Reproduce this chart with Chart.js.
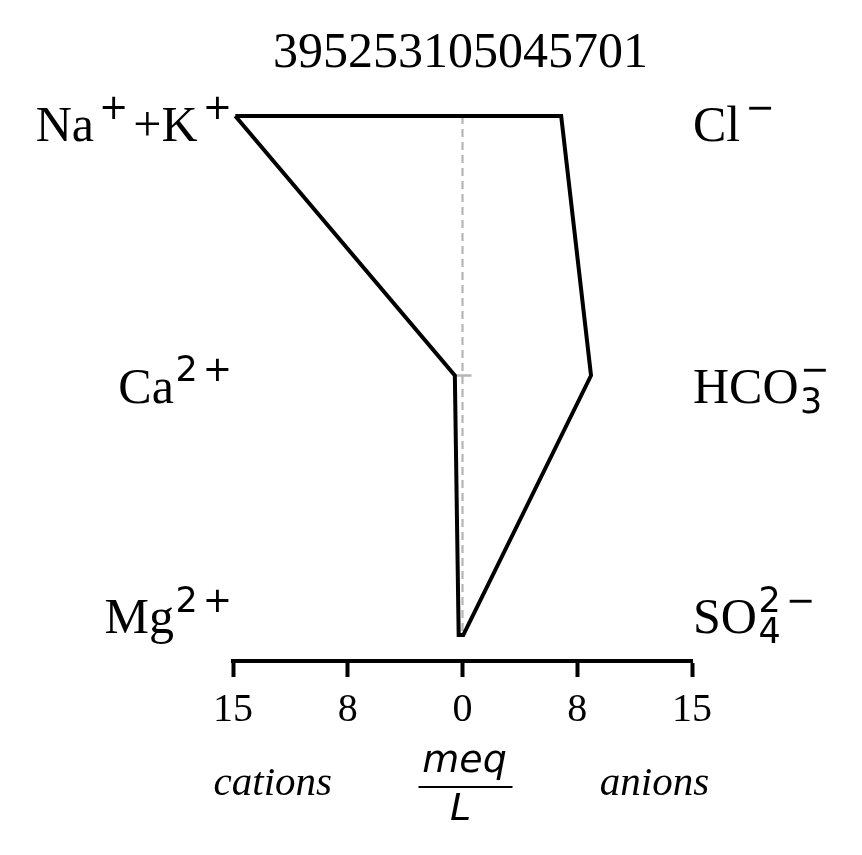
<!DOCTYPE html>
<html>
<head>
<meta charset="utf-8">
<script src="https://cdn.jsdelivr.net/npm/chart.js@4.4.1/dist/chart.umd.min.js"></script>
<style>
  html, body { margin: 0; padding: 0; background: #fff; }
</style>
</head>
<body>
<canvas id="stiff" width="862" height="855"></canvas>
<script>
// Sample id and ion concentrations (meq/L)
const TITLE = "395253105045701";
const cationLabels = ["Na⁺+K⁺", "Ca²⁺", "Mg²⁺"];
const anionLabels = ["Cl⁻", "HCO₃⁻", "SO₄²⁻"];
const cations = [14.85, 0.5, 0.25];
const anions = [6.45, 8.4, 0.05];
const xTicks = [-15, -7.5, 0, 7.5, 15];

const SERIF = '"Liberation Serif", "Times New Roman", serif';
const SANS = '"DejaVu Sans", sans-serif';

// Outline: cations down the left side, anions back up the right side
const outline = [];
cations.forEach((v, i) => outline.push({ x: -v, y: i }));
for (let i = anions.length - 1; i >= 0; i--) outline.push({ x: anions[i], y: i });
outline.push({ x: -cations[0], y: 0 });

const SUP = { "⁺": "+", "⁻": "−", "²": "2", "³": "3" };
const SUB = { "₃": "3", "₄": "4" };

/**
 * Lay out an ion label with mathtext-like super/subscripts
 */
function layoutIon(ctx, str, size) {
  const small = Math.round(size * 0.7);
  const ops = [];
  let x = 0;
  let prev = "n";
  let prevSign = false;
  let subStart = 0, subEnd = 0;
  for (const ch of str) {
    let kind = "n", t = ch;
    if (SUP[ch]) { kind = "sup"; t = SUP[ch]; }
    else if (SUB[ch]) { kind = "sub"; t = SUB[ch]; }
    const font = kind === "n" ? `${size}px ${SERIF}` : `${small}px ${SANS}`;
    ctx.font = font;
    if (kind === "sup" && prev === "sub") {
      x = subStart; // stack over the subscript
    } else if (kind === "sup" && (t === "+" || t === "−")) {
      x += size * 0.1;
    } else if (kind !== "n" && prev === "n") {
      x += size * 0.03;
    }
    if (prevSign && kind === "n") x += size * 0.1;
    if (kind === "sub") subStart = x;
    const w = ctx.measureText(t).width;
    const dy = kind === "sup" ? -size * 0.43 : kind === "sub" ? size * 0.2 : 0;
    ops.push({ t, font, x, dy });
    x += w;
    if (kind === "sub") subEnd = x;
    if (kind === "sup" && prev === "sub") x = Math.max(x, subEnd);
    prevSign = kind === "sup" && (t === "+" || t === "−");
    prev = kind;
  }
  return { ops, width: x };
}

function drawIon(ctx, str, x, y, size, align) {
  const lay = layoutIon(ctx, str, size);
  const x0 = align === "right" ? x - lay.width : x;
  ctx.textAlign = "left";
  ctx.textBaseline = "alphabetic";
  ctx.fillStyle = "#000";
  lay.ops.forEach((op) => {
    ctx.font = op.font;
    ctx.fillText(op.t, x0 + op.x, y + op.dy);
  });
}

const stiffDecor = {
  id: "stiffDecor",
  beforeDatasetsDraw(chart) {
    const { ctx, scales } = chart;
    const xs = scales.x, ys = scales.y;
    const x0 = xs.getPixelForValue(0);
    ctx.save();
    ctx.strokeStyle = "#b5b5b5";
    ctx.lineWidth = 2.2;
    ctx.setLineDash([8, 5]);
    ctx.beginPath();
    ctx.moveTo(x0, ys.getPixelForValue(0));
    ctx.lineTo(x0, ys.getPixelForValue(cations.length - 1));
    ctx.stroke();
    // centre ticks on the inner rows
    ctx.setLineDash([]);
    ctx.lineWidth = 2.5;
    for (let i = 1; i < cations.length - 1; i++) {
      const py = ys.getPixelForValue(i);
      ctx.beginPath();
      ctx.moveTo(x0 - 8, py);
      ctx.lineTo(x0 + 9, py);
      ctx.stroke();
    }
    ctx.restore();
  },
  afterDraw(chart) {
    const { ctx, chartArea, scales } = chart;
    const ys = scales.y;
    const rowShift = [25, 27, -2];
    ctx.save();

    // title
    ctx.font = `50px ${SERIF}`;
    ctx.fillStyle = "#000";
    ctx.textAlign = "center";
    ctx.textBaseline = "alphabetic";
    ctx.fillText(TITLE, (chartArea.left + chartArea.right) / 2 - 2, 67);

    // ion labels
    cationLabels.forEach((lab, i) => {
      drawIon(ctx, lab, chartArea.left - 1, ys.getPixelForValue(i) + rowShift[i], 50, "right");
    });
    anionLabels.forEach((lab, i) => {
      drawIon(ctx, lab, chartArea.right + 1, ys.getPixelForValue(i) + rowShift[i], 50, "left");
    });

    // axis caption
    const mid = scales.x.getPixelForValue(0);
    ctx.font = `italic 41px ${SERIF}`;
    ctx.textAlign = "center";
    ctx.fillText("cations", scales.x.getPixelForValue(-12.4), 795);
    ctx.fillText("anions", scales.x.getPixelForValue(12.55), 795);
    ctx.font = `italic 38px ${SANS}`;
    ctx.fillText("meq", mid + 2, 772);
    ctx.fillText("L", mid - 2, 820);
    ctx.strokeStyle = "#000";
    ctx.lineWidth = 2;
    ctx.beginPath();
    ctx.moveTo(mid - 44, 787);
    ctx.lineTo(mid + 50, 787);
    ctx.stroke();
    ctx.restore();
  },
};

const ctx = document.getElementById("stiff").getContext("2d");
new Chart(ctx, {
  type: "scatter",
  data: {
    datasets: [
      {
        data: outline,
        showLine: true,
        borderColor: "#000",
        borderWidth: 4,
        pointRadius: 0,
        tension: 0,
        fill: false,
        borderJoinStyle: "miter",
      },
    ],
  },
  options: {
    responsive: false,
    devicePixelRatio: 1,
    animation: false,
    layout: {
      padding: { left: 233, right: 170, top: 103, bottom: 112 },
    },
    plugins: {
      legend: { display: false },
      tooltip: { enabled: false },
      title: { display: false },
    },
    scales: {
      x: {
        type: "linear",
        min: -15,
        max: 15,
        afterBuildTicks: (scale) => {
          scale.ticks = xTicks.map((v) => ({ value: v }));
        },
        ticks: {
          autoSkip: false,
          maxRotation: 0,
          padding: 9,
          color: "#000",
          font: { family: "Liberation Serif", size: 40 },
          callback: (v) => String(Math.round(Math.abs(v))),
        },
        grid: {
          display: true,
          drawOnChartArea: false,
          drawTicks: true,
          tickLength: 16,
          tickWidth: 4,
          tickColor: "#000",
        },
        border: { display: true, color: "#000", width: 4 },
      },
      y: {
        type: "linear",
        display: false,
        reverse: true,
        min: -0.05,
        max: 2.1,
      },
    },
  },
  plugins: [stiffDecor],
});
</script>
</body>
</html>
